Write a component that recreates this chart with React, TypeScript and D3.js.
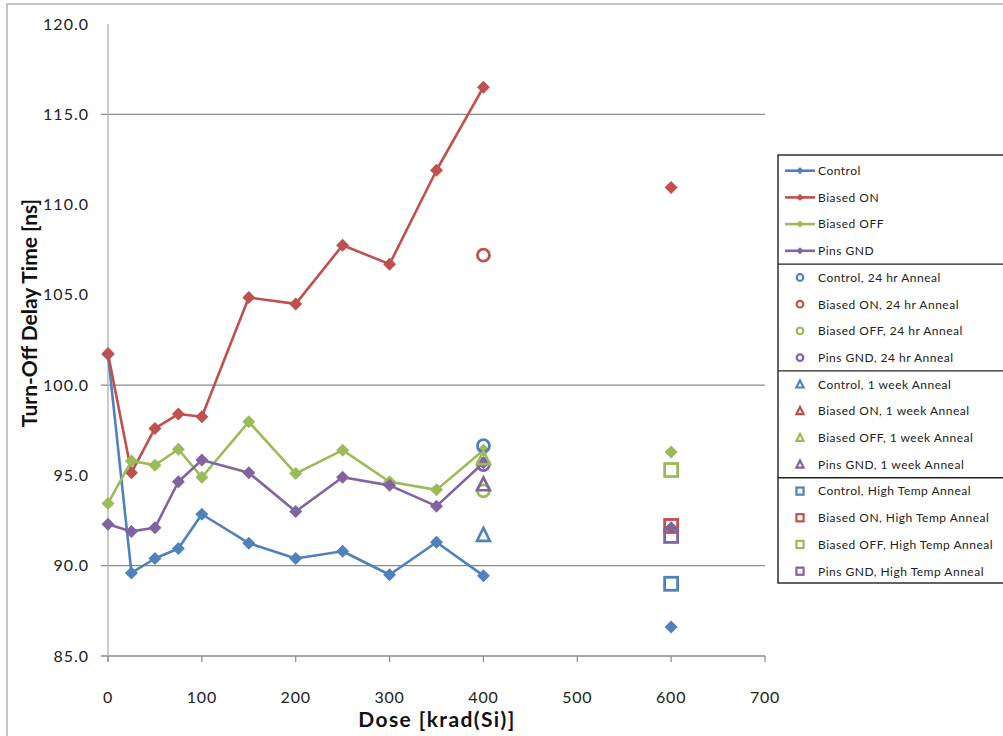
import React from "react";
import * as d3 from "d3";

// dose points (krad(Si)); 500 has no measurement, so lines break there
const doses = [0, 25, 50, 75, 100, 150, 200, 250, 300, 350, 400, 500, 600];

const seriesNames = ["Control", "Biased ON", "Biased OFF", "Pins GND"];
const colors = ["#4F81BD", "#C0504D", "#9BBB59", "#8064A2"];

const control = [101.7, 89.6, 90.4, 90.95, 92.85, 91.25, 90.4, 90.8, 89.5, 91.3, 89.45, null, 86.6];
const biasedOn = [101.75, 95.15, 97.6, 98.4, 98.25, 104.85, 104.5, 107.75, 106.7, 111.9, 116.5, null, 110.95];
const biasedOff = [93.45, 95.8, 95.57, 96.45, 94.9, 97.97, 95.1, 96.4, 94.65, 94.2, 96.4, null, 96.3];
const pinsGnd = [92.3, 91.9, 92.1, 94.65, 95.85, 95.15, 93.0, 94.9, 94.45, 93.3, 95.7, null, 92.1];

// anneal measurements, order: Control, Biased ON, Biased OFF, Pins GND
const anneal24Dose = 400;
const anneal24 = [96.65, 107.2, 94.15, 95.6];
const anneal1wkDose = 400;
const anneal1wk = [91.7, null, 95.95, 94.5];
const annealHTDose = 600;
const annealHT = [89.0, 92.2, 95.3, 91.65];

const xTicks = [0, 100, 200, 300, 400, 500, 600, 700];
const yTicks = [85, 90, 95, 100, 105, 110, 115, 120];
const gridValues = [90, 100, 115];

const annealTags = ["24 hr Anneal", "1 week Anneal", "High Temp Anneal"];
const legendLabels = [
  ...seriesNames,
  ...annealTags.flatMap((tag) => seriesNames.map((n) => `${n}, ${tag}`)),
];

const W = 1003;
const H = 736;
const font = "Lato, 'Open Sans', sans-serif";

const x = d3.scaleLinear().domain([0, 700]).range([108, 765]);
const y = d3.scaleLinear().domain([85, 120]).range([656, 24]);

const diamond = (cx: number, cy: number, r: number) =>
  `M${cx},${cy - r}L${cx + r},${cy}L${cx},${cy + r}L${cx - r},${cy}Z`;
const triangle = (cx: number, cy: number, s: number) =>
  `M${cx},${cy - s * 0.55}L${cx + s / 2},${cy + s * 0.45}L${cx - s / 2},${cy + s * 0.45}Z`;

function Marker({ kind, cx, cy, color, small }: any) {
  const k = small ? 0.55 : 1;
  if (kind === "diamond") return <path d={diamond(cx, cy, 6.5 * k)} fill={color} />;
  if (kind === "circle")
    return <circle cx={cx} cy={cy} r={6 * k} fill="none" stroke={color} strokeWidth={small ? 2.2 : 2.8} />;
  if (kind === "triangle")
    return <path d={triangle(cx, cy, 13 * k)} fill="none" stroke={color} strokeWidth={small ? 2.2 : 2.6} />;
  const s = 13 * k;
  return <rect x={cx - s / 2} y={cy - s / 2} width={s} height={s} fill="none" stroke={color} strokeWidth={small ? 2.2 : 2.8} />;
}

function App() {
  const lineSeries = [control, biasedOn, biasedOff, pinsGnd];
  const line = d3
    .line<number | null>()
    .defined((d) => d !== null)
    .x((_, i) => x(doses[i]))
    .y((d) => y(d as number));

  const anneals = [
    { kind: "circle", dose: anneal24Dose, values: anneal24 },
    { kind: "triangle", dose: anneal1wkDose, values: anneal1wk },
    { kind: "square", dose: annealHTDose, values: annealHT },
  ];

  const legendRow = (i: number) => 170.7 + i * 26.7;

  return (
    <div style={{ position: "absolute", left: 0, top: 0 }}>
      <svg width={W} height={H} style={{ display: "block", background: "#fff" }}>
        <rect x={7} y={4} width={1010} height={740} fill="#fff" stroke="#8c8c8c" strokeWidth={1} />

        {/* gridlines and axes */}
        {gridValues.map((v) => (
          <line key={v} x1={101} x2={765} y1={y(v)} y2={y(v)} stroke="#8a8a8a" strokeWidth={1.3} />
        ))}
        <line x1={101} x2={765} y1={y(85)} y2={y(85)} stroke="#8a8a8a" strokeWidth={1.3} />
        <line x1={x(0)} x2={x(0)} y1={y(120)} y2={y(85) + 6} stroke="#b0b0b0" strokeWidth={1.3} />
        {xTicks.map((t) => (
          <line key={t} x1={x(t)} x2={x(t)} y1={y(85)} y2={y(85) + 6} stroke="#8a8a8a" strokeWidth={1.2} />
        ))}
        {yTicks.map((t) => (
          <text key={t} x={89} y={y(t) + 5.5} textAnchor="end" fontFamily={font} fontSize={16} letterSpacing={1} fill="#222">
            {t.toFixed(1)}
          </text>
        ))}
        {xTicks.map((t) => (
          <text key={t} x={x(t)} y={703} textAnchor="middle" fontFamily={font} fontSize={16} letterSpacing={0.8} fill="#222">
            {t}
          </text>
        ))}
        <text x={437} y={727} textAnchor="middle" fontFamily={font} fontSize={21} letterSpacing={1.4} fontWeight="bold" fill="#111">
          Dose [krad(Si)]
        </text>
        <text
          transform={`translate(37,313) rotate(-90)`}
          textAnchor="middle"
          fontFamily={font}
          fontSize={21}
          fontWeight="bold"
          fill="#111"
        >
          Turn-Off Delay Time [ns]
        </text>

        {/* line series */}
        {lineSeries.map((vals, s) => (
          <g key={s}>
            <path d={line(vals) || ""} fill="none" stroke={colors[s]} strokeWidth={2.6} strokeLinejoin="round" />
            {vals.map((v, i) =>
              v === null ? null : <Marker key={i} kind="diamond" cx={x(doses[i])} cy={y(v)} color={colors[s]} />
            )}
          </g>
        ))}

        {/* anneal markers */}
        {anneals.map((a) =>
          a.values.map((v, s) =>
            v === null ? null : (
              <Marker key={a.kind + s} kind={a.kind} cx={x(a.dose)} cy={y(v)} color={colors[s]} />
            )
          )
        )}

        {/* legend */}
        <rect x={778} y={155} width={240} height={428} fill="#fff" stroke="#222" strokeWidth={1.4} />
        {[1, 2, 3].map((g) => (
          <line key={g} x1={778} x2={1010} y1={legendRow(g * 4 - 1) + 13.3} y2={legendRow(g * 4 - 1) + 13.3} stroke="#222" strokeWidth={1.4} />
        ))}
        {legendLabels.map((label, i) => {
          const cy = legendRow(i);
          const color = colors[i % 4];
          const group = Math.floor(i / 4);
          return (
            <g key={label}>
              {group === 0 ? (
                <>
                  <line x1={785} x2={815} y1={cy} y2={cy} stroke={color} strokeWidth={2.6} />
                  <path d={diamond(800, cy, 3.6)} fill={color} />
                </>
              ) : (
                <Marker kind={["circle", "triangle", "square"][group - 1]} cx={800} cy={cy} color={color} small />
              )}
              <text x={818} y={cy + 4.3} fontFamily={font} fontSize={12} letterSpacing={0.5} fill="#222">
                {label}
              </text>
            </g>
          );
        })}
      </svg>
    </div>
  );
}

export default App;
